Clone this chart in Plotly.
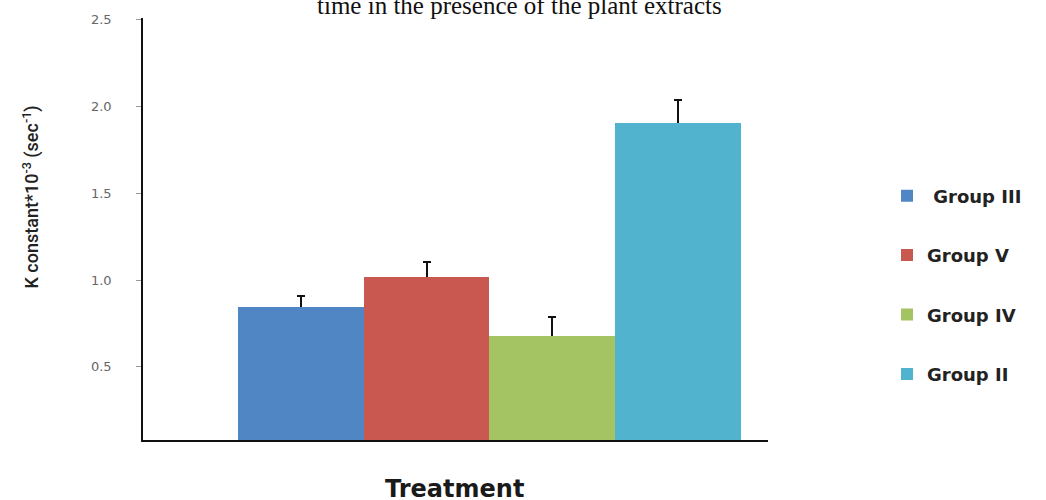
import plotly.graph_objects as go

# Rate constants per treatment group (mean and upper error)
groups = [" Group III", "Group V", "Group IV", "Group II"]
k_means = [0.846, 1.019, 0.679, 1.906]
k_errors = [0.063, 0.086, 0.109, 0.133]
bar_colors = ["#5186C4", "#C95851", "#A4C463", "#52B3CE"]
category = ["Treatment"]
tick_values = [0.5, 1.0, 1.5, 2.0, 2.5]
tick_labels = ["0.5", "1.0", "1.5", "2.0", "2.5"]

fig = go.Figure()
for i, (name, mean, err, color) in enumerate(zip(groups, k_means, k_errors, bar_colors)):
    # Bar carrying the error bar; its lower half is hidden by the bar drawn on top
    fig.add_trace(go.Bar(
        x=category,
        y=[mean],
        name=name,
        legendgroup=f"g{i}",
        offsetgroup=str(i),
        showlegend=False,
        hoverinfo="skip",
        marker=dict(color=color, line=dict(width=0)),
        error_y=dict(type="data", array=[err],
                     color="#111111", thickness=2, width=4),
    ))
    # Same bar drawn again over it so only the upper whisker shows
    fig.add_trace(go.Bar(
        x=category,
        y=[mean],
        name=name,
        legendgroup=f"g{i}",
        offsetgroup=str(i),
        marker=dict(color=color, line=dict(width=0)),
    ))

fig.update_layout(
    width=1046,
    height=500,
    margin=dict(l=143, r=278, t=18, b=60),
    paper_bgcolor="white",
    plot_bgcolor="white",
    barmode="group",
    bargap=0,
    bargroupgap=0,
    showlegend=True,
    legend=dict(
        xref="container", yref="container",
        x=0.848, y=0.645, xanchor="left", yanchor="top",
        traceorder="grouped", tracegroupgap=33,
        font=dict(family="DejaVu Sans", size=18, color="#222222", weight="bold"),
        bgcolor="rgba(0,0,0,0)",
    ),
    xaxis=dict(
        range=[-0.689, 0.554],
        showticklabels=False,
        ticks="",
        showgrid=False,
        zeroline=False,
        showline=True,
        linecolor="#111111",
        linewidth=1.5,
    ),
    yaxis=dict(
        range=[0.079, 2.51],
        tickvals=tick_values,
        ticktext=tick_labels,
        ticks="outside",
        ticklen=5,
        tickcolor="#999999",
        ticklabelstandoff=22,
        tickfont=dict(family="DejaVu Sans", size=13, color="#666666"),
        showgrid=False,
        zeroline=False,
        showline=True,
        linecolor="#111111",
        linewidth=1.5,
    ),
)

# Caption line at the top of the figure
fig.add_annotation(
    text="time in the presence of the plant extracts",
    xref="paper", yref="paper", x=0.6016, y=1.0,
    xanchor="center", yanchor="bottom", yshift=-3,
    showarrow=False,
    font=dict(family="Liberation Serif", size=25, color="#111111"),
)

# Y axis title
fig.add_annotation(
    text="K constant*10<sup>-3</sup> (sec<sup>-1</sup>)",
    xref="paper", yref="paper", x=-0.179, y=0.575,
    xanchor="center", yanchor="middle", textangle=-90,
    showarrow=False,
    font=dict(family="Roboto, sans-serif", size=18, color="#222222", weight=500),
)

# X axis title
fig.add_annotation(
    text="<b>Treatment</b>",
    xref="paper", yref="paper", x=0.499, y=0.0,
    xanchor="center", yanchor="top", yshift=-33,
    showarrow=False,
    font=dict(family="DejaVu Sans", size=24, color="#1a1a1a"),
)

fig.write_html("out.html")
